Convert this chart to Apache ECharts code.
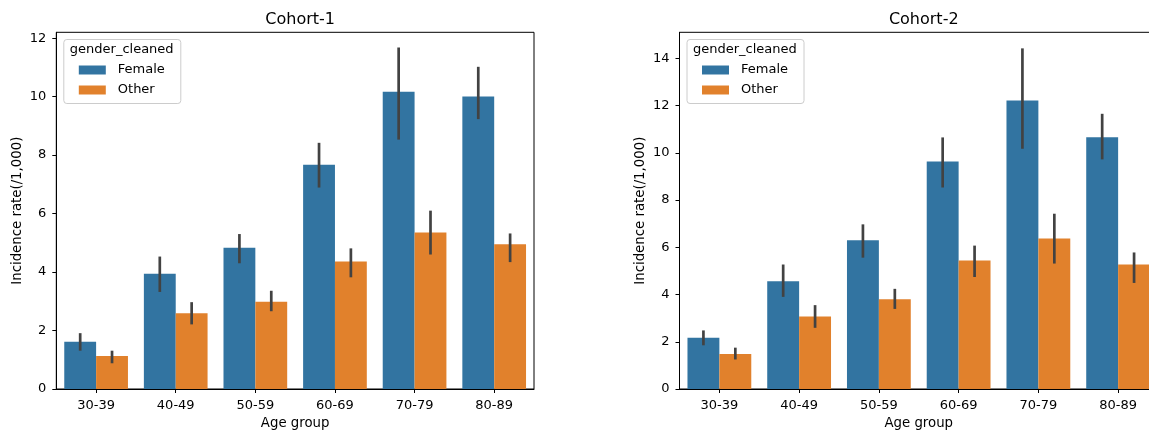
<!DOCTYPE html>
<html>
<head>
<meta charset="utf-8">
<script src="https://cdn.jsdelivr.net/npm/echarts@6/dist/echarts.min.js"></script>
<style>
html,body{margin:0;padding:0;background:#fff;}
#chart{width:1149px;height:430px;}
</style>
</head>
<body>
<div id="chart"></div>
<script>
var categories = ['30-39', '40-49', '50-59', '60-69', '70-79', '80-89'];
var seriesNames = ['Female', 'Other'];

var c1Female     = [1.62, 3.94, 4.83, 7.67, 10.17, 10.00];
var c1FemaleLow  = [1.31, 3.32, 4.30, 6.89, 8.53, 9.23];
var c1FemaleHigh = [1.91, 4.53, 5.30, 8.42, 11.68, 11.02];
var c1Other      = [1.13, 2.59, 2.98, 4.36, 5.35, 4.95];
var c1OtherLow   = [0.88, 2.21, 2.66, 3.82, 4.60, 4.34];
var c1OtherHigh  = [1.31, 2.97, 3.36, 4.81, 6.10, 5.32];

var c2Female     = [2.17, 4.56, 6.30, 9.63, 12.21, 10.66];
var c2FemaleLow  = [1.85, 3.90, 5.56, 8.53, 10.17, 9.72];
var c2FemaleHigh = [2.48, 5.27, 6.97, 10.65, 14.42, 11.65];
var c2Other      = [1.48, 3.07, 3.80, 5.44, 6.37, 5.27];
var c2OtherLow   = [1.25, 2.59, 3.39, 4.74, 5.31, 4.49];
var c2OtherHigh  = [1.75, 3.55, 4.24, 6.07, 7.42, 5.78];

var c1YTicks = [0, 2, 4, 6, 8, 10, 12];
var c2YTicks = [0, 2, 4, 6, 8, 10, 12, 14];
var c1YMax = 12.2;
var c2YMax = 15.1;

var titles = ['Cohort-1', 'Cohort-2'];
var xName = 'Age group';
var yName = 'Incidence rate(/1,000)';
var legendTitle = 'gender_cleaned';

var FONT = 'DejaVu Sans';
var colors = ['#3274a1', '#e1812c'];
var errColor = '#424242';

var grids = [
  {left: 56.3, top: 32.3, width: 477.7, height: 356.7},
  {left: 679.5, top: 32.3, width: 478.5, height: 356.7}
];

function errData(low, high) {
  return low.map(function (l, i) { return [i, l, high[i]]; });
}

function errSeries(gi, name, low, high, sign) {
  return {
    type: 'custom',
    name: name,
    xAxisIndex: gi,
    yAxisIndex: gi,
    z: 5,
    data: errData(low, high),
    renderItem: function (params, api) {
      var bw = api.size([1, 0])[0];
      var p1 = api.coord([api.value(0), api.value(1)]);
      var p2 = api.coord([api.value(0), api.value(2)]);
      var x = p1[0] + sign * 0.2 * bw;
      return {
        type: 'line',
        shape: {x1: x, y1: p1[1], x2: x, y2: p2[1]},
        style: {stroke: errColor, lineWidth: 2.7, lineCap: 'butt'}
      };
    },
    silent: true
  };
}

function barSeries(gi, name, vals, ci) {
  return {
    type: 'bar',
    name: name,
    xAxisIndex: gi,
    yAxisIndex: gi,
    data: vals,
    barGap: '0%',
    barCategoryGap: '20%',
    itemStyle: {color: colors[ci]},
    emphasis: {disabled: true}
  };
}

function xAxisFor(gi) {
  return {
    type: 'category',
    gridIndex: gi,
    data: categories,
    name: xName,
    nameLocation: 'middle',
    nameGap: 27,
    nameTextStyle: {fontFamily: FONT, fontSize: 13.3, color: '#000'},
    axisLine: {show: true, lineStyle: {color: '#000', width: 1}},
    axisTick: {show: true, alignWithLabel: true, length: 4, lineStyle: {color: '#000'}},
    axisLabel: {fontFamily: FONT, fontSize: 13, color: '#000', margin: 10},
    splitLine: {show: false}
  };
}

function yAxisFor(gi, max, ticks) {
  return {
    type: 'value',
    gridIndex: gi,
    min: 0,
    max: max,
    name: yName,
    nameLocation: 'middle',
    nameGap: 32.5,
    nameTextStyle: {fontFamily: FONT, fontSize: 13.3, color: '#000'},
    axisLine: {show: true, lineStyle: {color: '#000', width: 1}},
    axisTick: {show: true, length: 4, lineStyle: {color: '#000'}, customValues: ticks},
    axisLabel: {fontFamily: FONT, fontSize: 13, color: '#000', margin: 10, customValues: ticks},
    splitLine: {show: false}
  };
}

function legendFor(gi) {
  var g = grids[gi];
  return {
    data: seriesNames,
    orient: 'vertical',
    left: g.left + 22.5,
    top: 63,
    padding: 0,
    z: 30,
    itemGap: 6,
    itemWidth: 27,
    itemHeight: 9,
    icon: 'rect',
    selectedMode: false,
    textStyle: {fontFamily: FONT, fontSize: 13, color: '#000', lineHeight: 14, padding: [0, 0, 0, 7]}
  };
}

function legendFrame(gi) {
  var g = grids[gi];
  return [{
    type: 'rect',
    left: g.left + 7,
    top: 39,
    z: 1,
    shape: {width: 117, height: 64, r: 3},
    style: {fill: 'rgba(255,255,255,0.8)', stroke: '#cccccc', lineWidth: 1}
  }, {
    type: 'text',
    left: g.left + 13.5,
    top: 43,
    z: 2,
    style: {text: legendTitle, font: '13px "DejaVu Sans"', fill: '#000'}
  }];
}

var option = {
  animation: false,
  backgroundColor: '#fff',
  title: titles.map(function (t, i) {
    return {
      text: t,
      left: grids[i].left + grids[i].width / 2,
      textAlign: 'center',
      top: 7,
      textStyle: {fontFamily: FONT, fontSize: 16, fontWeight: 'normal', color: '#000'}
    };
  }),
  grid: grids.map(function (g) {
    return {left: g.left, top: g.top, width: g.width, height: g.height,
            containLabel: false, outerBoundsMode: 'none',
            show: true, borderColor: '#000', borderWidth: 1, backgroundColor: 'transparent'};
  }),
  legend: [legendFor(0), legendFor(1)],
  xAxis: [xAxisFor(0), xAxisFor(1)],
  yAxis: [yAxisFor(0, c1YMax, c1YTicks), yAxisFor(1, c2YMax, c2YTicks)],
  graphic: {elements: legendFrame(0).concat(legendFrame(1)), z: 10},
  series: [
    barSeries(0, seriesNames[0], c1Female, 0),
    barSeries(0, seriesNames[1], c1Other, 1),
    barSeries(1, seriesNames[0], c2Female, 0),
    barSeries(1, seriesNames[1], c2Other, 1),
    errSeries(0, 'err1f', c1FemaleLow, c1FemaleHigh, -1),
    errSeries(0, 'err1o', c1OtherLow, c1OtherHigh, 1),
    errSeries(1, 'err2f', c2FemaleLow, c2FemaleHigh, -1),
    errSeries(1, 'err2o', c2OtherLow, c2OtherHigh, 1)
  ]
};

var chart = echarts.init(document.getElementById('chart'), null, {renderer: 'canvas'});
chart.setOption(option);
</script>
</body>
</html>
